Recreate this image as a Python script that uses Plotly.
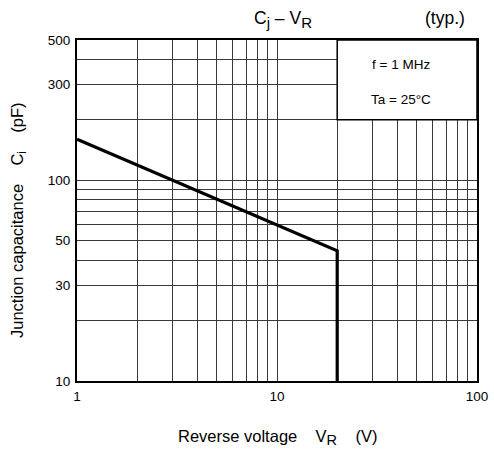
import math
import plotly.graph_objects as go

# Junction capacitance vs reverse voltage (typical curve)
voltage = [1, 20, 20]          # V_R (V)
capacitance = [160, 44.5, 10]  # C_j (pF)

# labelled ticks and extra grid positions
x_ticks = [1, 10, 100]
x_ticktext = ["1", "10", "100"]
x_minor = [2, 3, 4, 5, 6, 7, 8, 9, 20, 30, 40, 50, 60, 70, 80, 90]
y_ticks = [10, 30, 50, 100, 300, 500]
y_ticktext = ["10", "30", "50", "100", "300", "500"]
y_minor = [20, 40, 60, 70, 80, 90, 200, 400]

# extent of the test-condition box (V, pF)
box_x = [20, 100]
box_y = [200, 500]

FONT = "Liberation Sans, Arial, sans-serif"
NB = "\u00a0"
X_RANGE = [0, 2]
Y_RANGE = [1, math.log10(500)]
GRID = "#3a3a3a"

fig = go.Figure()
fig.add_trace(go.Scatter(
    x=voltage, y=capacitance, mode="lines",
    line=dict(color="black", width=3.2),
    showlegend=False, hoverinfo="skip",
))

axis_common = dict(
    type="log", showgrid=True, gridcolor=GRID, gridwidth=1.2,
    showline=True, linecolor="black", linewidth=2.2, mirror=True,
    ticks="", zeroline=False, automargin=False, ticklabelstandoff=2,
    tickfont=dict(family=FONT, size=13.5, color="black"),
)
fig.update_xaxes(
    range=X_RANGE, tickmode="array", tickvals=x_ticks, ticktext=x_ticktext,
    minor=dict(tickmode="array", tickvals=x_minor, showgrid=True,
               gridcolor=GRID, gridwidth=1.2, ticks=""),
    **axis_common,
)
fig.update_yaxes(
    range=Y_RANGE, tickmode="array", tickvals=y_ticks, ticktext=y_ticktext,
    minor=dict(tickmode="array", tickvals=y_minor, showgrid=True,
               gridcolor=GRID, gridwidth=1.2, ticks=""),
    **axis_common,
)


def to_paper_x(v):
    return (math.log10(v) - X_RANGE[0]) / (X_RANGE[1] - X_RANGE[0])


def to_paper_y(v):
    return (math.log10(v) - Y_RANGE[0]) / (Y_RANGE[1] - Y_RANGE[0])


# condition box in the upper right corner
fig.add_shape(type="rect", xref="paper", yref="paper",
              x0=to_paper_x(box_x[0]), x1=to_paper_x(box_x[1]),
              y0=to_paper_y(box_y[0]), y1=to_paper_y(box_y[1]),
              fillcolor="white", line=dict(color="black", width=1.5), layer="above")

W, H = 494, 450
L, R, T, B = 77, 17, 40, 69


def px(xp, yp):
    return (xp - L) / (W - L - R), 1 - (yp - T) / (H - T - B)


def label(xp, yp, text, size, angle=0):
    ax, ay = px(xp, yp)
    fig.add_annotation(x=ax, y=ay, xref="paper", yref="paper", text=text,
                       showarrow=False, textangle=angle,
                       xanchor="center", yanchor="middle",
                       font=dict(family=FONT, size=size, color="black"))


def sub(s, size):
    return f"<sub><span style='font-size:{size}px'>{s}</span></sub>"


label(401, 64, "f = 1 MHz", 13.5)
label(401, 99, "Ta = 25°C", 13.5)
label(283, 19, f"C{sub('j', 15)} – V{sub('R', 15)}", 17.5)
label(445, 18, "(typ.)", 17.5)
label(277, 437, f"Reverse voltage{NB*4}V{sub('R', 14.5)}{NB*4}(V)", 16.5)
label(18, 220, f"Junction capacitance{NB*4}C{sub('i', 12)}{NB*4}(pF)", 16.5, angle=-90)

fig.update_layout(
    width=W, height=H,
    margin=dict(l=L, r=R, t=T, b=B),
    paper_bgcolor="white", plot_bgcolor="white",
)

fig.write_html("out.html")
